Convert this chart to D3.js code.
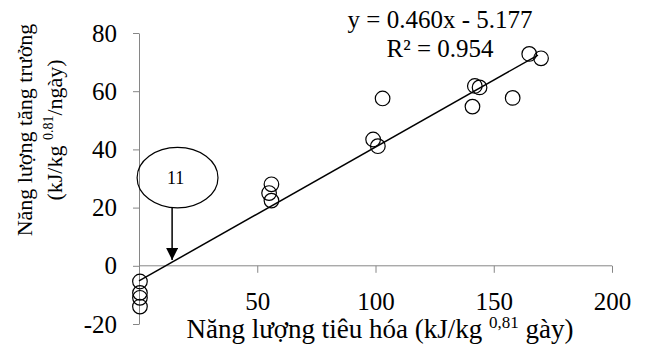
<!DOCTYPE html>
<html>
<head>
<meta charset="utf-8">
<script src="https://cdn.jsdelivr.net/npm/d3@7"></script>
<style>
  body { margin: 0; background: #fff; }
  svg { display: block; font-family: "Liberation Serif", "Times New Roman", serif; }
</style>
</head>
<body>
<div id="chart"></div>
<script>
// digestible energy (x) vs growth energy (y)
const xValues = [0.4, 0.4, 0.4, 0.4, 56, 55, 56, 99, 101, 103, 141, 142, 144, 158, 165, 170];
const yValues = [-5.4, -9.3, -11, -14, 28, 25, 22.4, 43.4, 41.1, 57.5, 54.7, 61.8, 61.3, 57.7, 72.8, 71.3];
const xTicks = [50, 100, 150, 200];
const yTicks = [-20, 0, 20, 40, 60, 80];
const slope = 0.460, intercept = -5.177;
const fitRange = [0, 168.7];
// annotation "11" bubble (data units) and arrow tip
const note = { label: "11", cx: 16.3, cy: 30.3, rx: 17.1, ry: 10.4, arrowX: 14, arrowTo: 2 };

const W = 646, H = 347;
const svg = d3.select("#chart").append("svg")
  .attr("width", W).attr("height", H);

const x = d3.scaleLinear().domain([0, 200]).range([139, 612]);
const y = d3.scaleLinear().domain([-20, 80]).range([324, 33]);

// x axis sits at y = 0
svg.append("g")
  .attr("transform", `translate(0,${y(0)})`)
  .call(d3.axisBottom(x).tickValues(xTicks).tickFormat(d => String(d))
    .tickSize(7).tickPadding(19).tickSizeOuter(0))
  .call(g => g.select(".domain").attr("d", `M${x(0)},0H${x(200)}`))
  .call(g => g.selectAll("line, path").attr("stroke", "#868686"))
  .call(g => g.selectAll("text").attr("font-size", 25).attr("font-family", "Liberation Serif").attr("fill", "#000"));

svg.append("g")
  .attr("transform", `translate(${x(0)},0)`)
  .call(d3.axisLeft(y).tickValues(yTicks).tickFormat(d => String(d))
    .tickSize(6).tickPadding(16).tickSizeOuter(0))
  .call(g => g.selectAll("line, path").attr("stroke", "#868686"))
  .call(g => g.selectAll("text").attr("font-size", 25).attr("font-family", "Liberation Serif").attr("fill", "#000"));

// trend line
svg.append("line")
  .attr("x1", x(fitRange[0])).attr("y1", y(slope * fitRange[0] + intercept))
  .attr("x2", x(fitRange[1])).attr("y2", y(slope * fitRange[1] + intercept))
  .attr("stroke", "#000").attr("stroke-width", 1.5);

svg.selectAll("circle.pt")
  .data(xValues.map((v, i) => [v, yValues[i]]))
  .enter().append("circle")
  .attr("class", "pt")
  .attr("cx", d => x(d[0]))
  .attr("cy", d => y(d[1]))
  .attr("r", 7.3)
  .attr("fill", "none")
  .attr("stroke", "#000")
  .attr("stroke-width", 1.2);

// equation
svg.append("text")
  .attr("x", 440).attr("y", 28)
  .attr("text-anchor", "middle")
  .attr("font-size", 25)
  .text("y = 0.460x - 5.177");
svg.append("text")
  .attr("x", 440).attr("y", 57)
  .attr("text-anchor", "middle")
  .attr("font-size", 25)
  .text("R² = 0.954");

// annotation bubble + arrow
svg.append("ellipse")
  .attr("cx", x(note.cx)).attr("cy", y(note.cy))
  .attr("rx", x(note.rx) - x(0)).attr("ry", y(0) - y(note.ry))
  .attr("fill", "none").attr("stroke", "#000").attr("stroke-width", 1.2);
svg.append("text")
  .attr("x", x(note.cx) - 2).attr("y", y(note.cy) + 6)
  .attr("text-anchor", "middle")
  .attr("font-size", 18)
  .text(note.label);

svg.append("defs").append("marker")
  .attr("id", "head")
  .attr("viewBox", "0 0 12 12")
  .attr("refX", 12).attr("refY", 6)
  .attr("markerWidth", 12).attr("markerHeight", 12)
  .attr("markerUnits", "userSpaceOnUse")
  .attr("orient", "auto")
  .append("path")
  .attr("d", "M0,0L12,6L0,12Z")
  .attr("fill", "#000");

svg.append("line")
  .attr("x1", x(note.arrowX)).attr("y1", y(note.cy - note.ry))
  .attr("x2", x(note.arrowX)).attr("y2", y(note.arrowTo))
  .attr("stroke", "#000").attr("stroke-width", 1.5)
  .attr("marker-end", "url(#head)");

// axis titles
const xt = svg.append("text")
  .attr("x", 380).attr("y", 338)
  .attr("text-anchor", "middle")
  .attr("font-size", 27);
xt.append("tspan").text("Năng lượng tiêu hóa (kJ/kg ");
xt.append("tspan").attr("font-size", 17).attr("dy", -10).text("0,81");
xt.append("tspan").attr("dy", 10).text(" gày)");

const yt = svg.append("g").attr("transform", "translate(0,130) rotate(-90)");
yt.append("text")
  .attr("x", 0).attr("y", 32)
  .attr("text-anchor", "middle")
  .attr("font-size", 22)
  .text("Năng lượng tăng trưởng");
const yt2 = yt.append("text")
  .attr("x", 0).attr("y", 62)
  .attr("text-anchor", "middle")
  .attr("font-size", 22);
yt2.append("tspan").text("(kJ/kg ");
yt2.append("tspan").attr("font-size", 14).attr("dy", -9).text("0.81");
yt2.append("tspan").attr("dy", 9).text("/ngày)");
</script>
</body>
</html>
